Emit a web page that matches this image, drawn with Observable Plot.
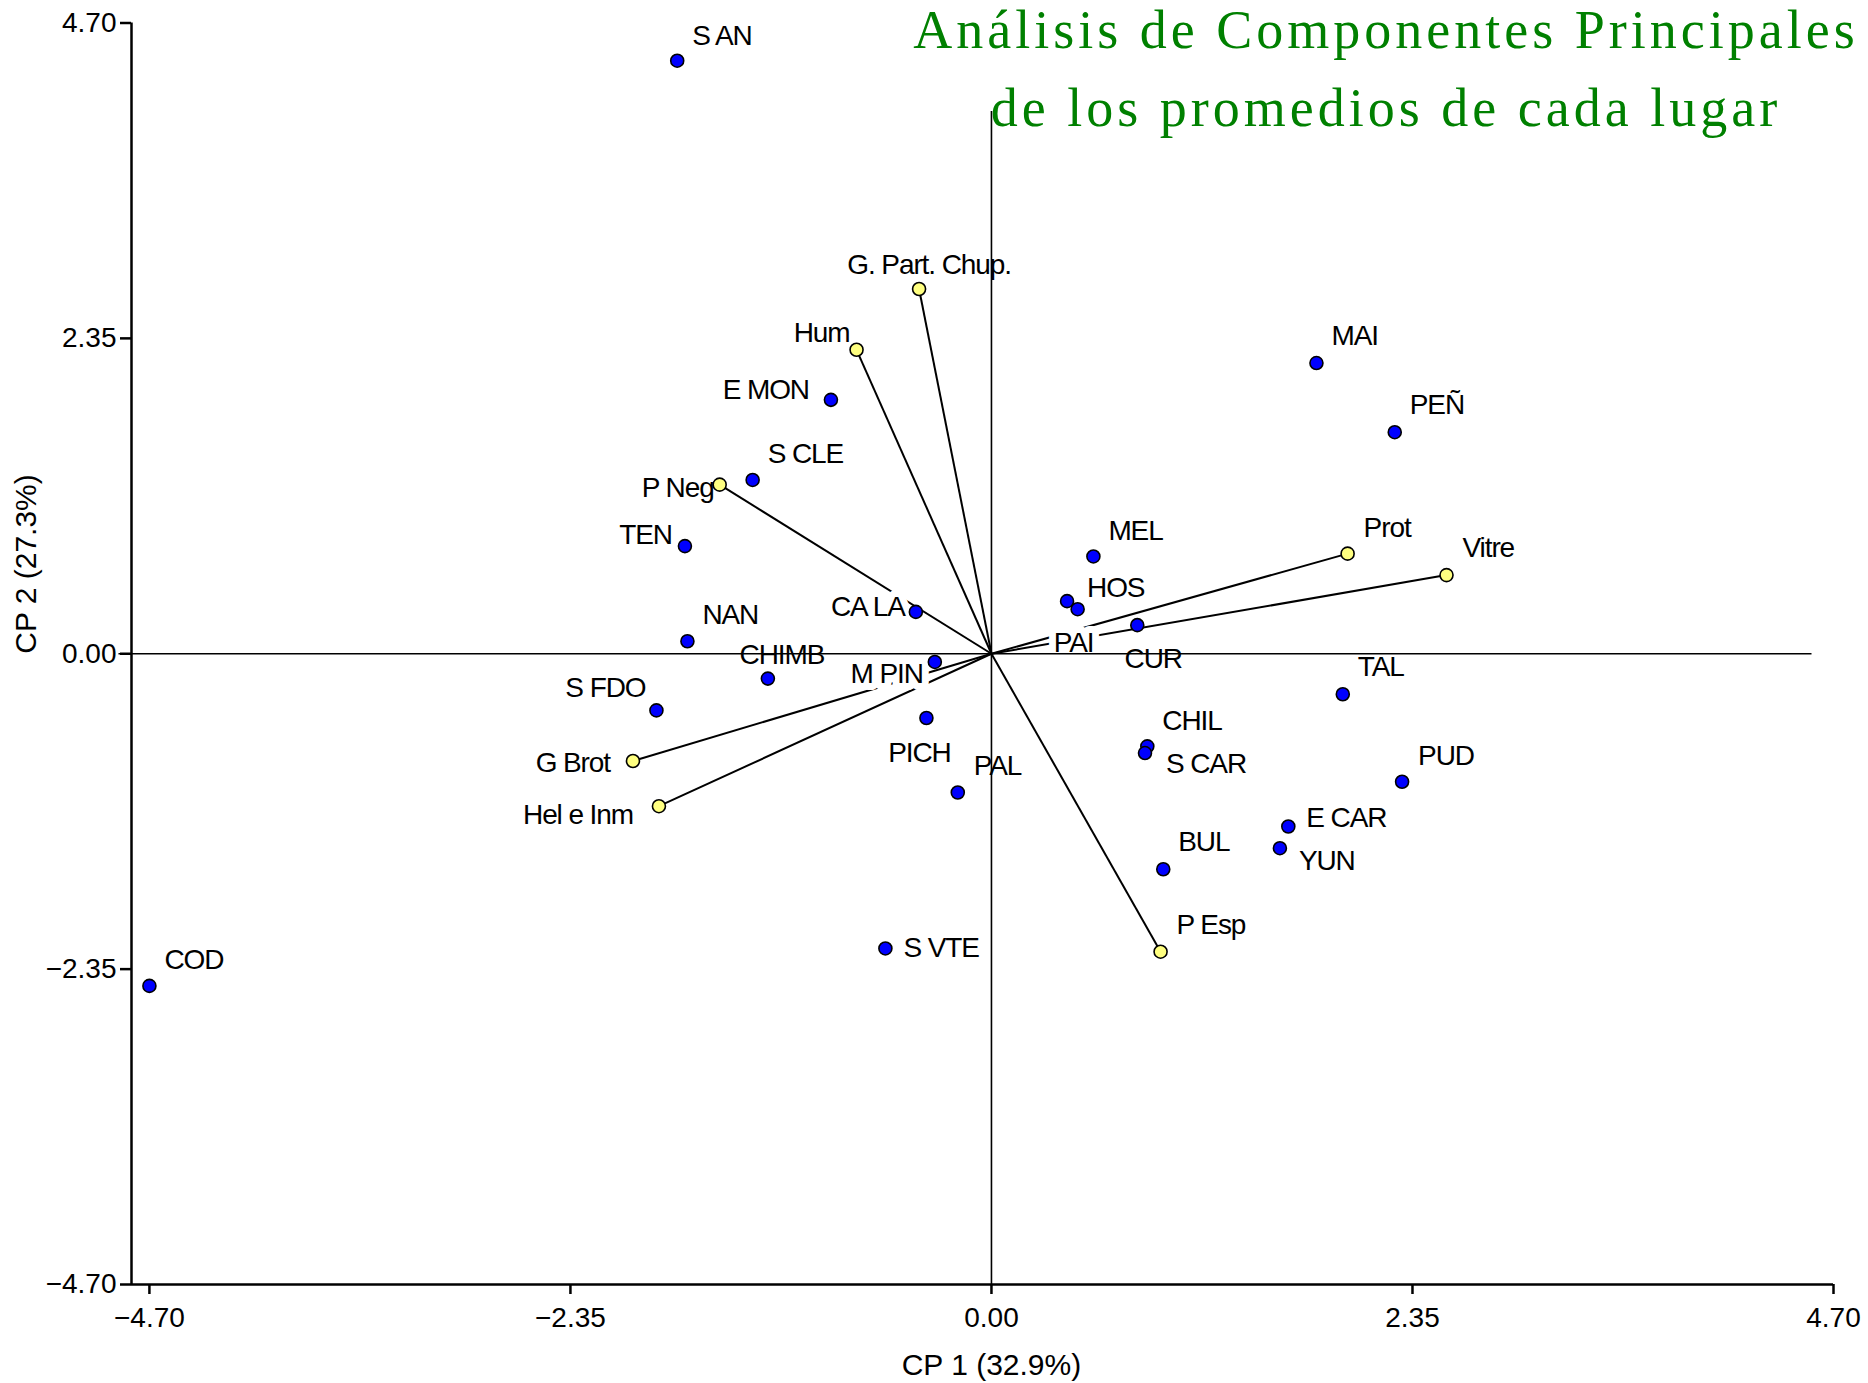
<!DOCTYPE html>
<html>
<head>
<meta charset="utf-8">
<script src="https://cdn.jsdelivr.net/npm/d3@7"></script>
<script src="https://cdn.jsdelivr.net/npm/@observablehq/plot@0.6"></script>
<style>
  html, body { margin: 0; padding: 0; background: #fff; }
  #chart { position: relative; width: 1868px; height: 1383px; overflow: hidden; }
  .titulo {
    position: absolute; left: 886px; width: 1000px;
    text-align: center; white-space: nowrap;
    font-family: "Liberation Serif", "DejaVu Serif", serif;
    font-size: 54px; line-height: 60px; letter-spacing: 4px; color: #008000;
  }
  g[aria-description="etiquetas"] text { letter-spacing: -1.1px; }
</style>
</head>
<body>
<div id="chart">
  <div class="titulo" style="top: 0px;">Análisis de Componentes Principales</div>
  <div class="titulo" style="top: 78px;">de los promedios de cada lugar</div>
</div>
<script>
// Lugares: puntuaciones en las dos primeras componentes
const lugares = ["S AN", "E MON", "S CLE", "TEN", "NAN", "CA LA", "CHIMB", "S FDO", "M PIN", "PICH", "PAL", "S VTE", "COD",
                 "HOS", "PAI", "MEL", "CUR", "MAI", "PEÑ", "TAL", "CHIL", "S CAR", "PUD", "E CAR", "YUN", "BUL"];
const lugaresCP1 = [-1.754, -0.896, -1.333, -1.711, -1.697, -0.422, -1.248, -1.870, -0.316, -0.363, -0.188, -0.592, -4.700,
                    0.422, 0.481, 0.569, 0.814, 1.814, 2.251, 1.961, 0.870, 0.857, 2.292, 1.657, 1.610, 0.959];
const lugaresCP2 = [4.419, 1.892, 1.295, 0.802, 0.093, 0.312, -0.185, -0.422, -0.061, -0.479, -1.034, -2.196, -2.475,
                    0.392, 0.332, 0.725, 0.213, 2.166, 1.651, -0.302, -0.690, -0.740, -0.954, -1.287, -1.449, -1.606];

// Variables: coordenadas de los vectores
const variables = ["G. Part. Chup.", "Hum", "P Neg", "Prot", "Vitre", "G Brot", "Hel e Inm", "P Esp"];
const variablesCP1 = [-0.404, -0.753, -1.517, 1.988, 2.540, -2.001, -1.856, 0.944];
const variablesCP2 = [2.718, 2.265, 1.260, 0.746, 0.586, -0.799, -1.136, -2.220];

// Ejes
const ticksEje = [-4.70, -2.35, 0, 2.35, 4.70];
const dominioX = [-4.8, 4.7];
const dominioY = [-4.7, 4.7];
const tituloX = "CP 1 (32.9%)";
const tituloY = "CP 2 (27.3%)";

// Colocación de cada etiqueta respecto a su punto: [anclaje, dx, dy]
const colocacion = {
  "S AN": ["start", 15, -16], "E MON": ["end", -22, -1], "S CLE": ["start", 15, -17], "TEN": ["end", -13, -2],
  "NAN": ["start", 15, -17], "CA LA": ["end", -11, 4], "CHIMB": ["middle", 14, -15], "S FDO": ["end", -11, -13],
  "M PIN": ["end", -12, 21], "PICH": ["middle", -7, 44], "PAL": ["start", 16, -18], "S VTE": ["start", 18, 9],
  "COD": ["start", 15, -17], "HOS": ["start", 20, -4], "PAI": ["middle", -4, 43], "MEL": ["start", 15, -16],
  "CUR": ["middle", 16, 43], "MAI": ["start", 15, -18], "PEÑ": ["start", 15, -18], "TAL": ["start", 15, -18],
  "CHIL": ["start", 15, -16], "S CAR": ["start", 21, 20], "PUD": ["start", 16, -17], "E CAR": ["start", 18, 1],
  "YUN": ["start", 19, 22], "BUL": ["start", 15, -18],
  "G. Part. Chup.": ["middle", 10, -15], "Hum": ["end", -7, -8], "P Neg": ["end", -6, 12], "Prot": ["start", 16, -17],
  "Vitre": ["start", 16, -18], "G Brot": ["end", -23, 11], "Hel e Inm": ["end", -26, 18], "P Esp": ["start", 16, -18]
};

const sitios = lugares.map((nombre, i) => ({nombre, cp1: lugaresCP1[i], cp2: lugaresCP2[i]}));
const vectores = variables.map((nombre, i) => ({nombre, cp1: variablesCP1[i], cp2: variablesCP2[i]}));
const todos = [...sitios, ...vectores];

const formato = d3.format(".2f");
const fuente = 28;

// Etiquetas: primero el fondo blanco de todas, luego el texto
const etiqueta = (d, fondo) => {
  const [anchor, dx, dy] = colocacion[d.nombre];
  return Plot.text([d], {
    x: "cp1", y: "cp2", text: "nombre",
    textAnchor: anchor, lineAnchor: "bottom", dx, dy,
    fontSize: fuente,
    fill: fondo ? "white" : "black",
    stroke: fondo ? "white" : null,
    strokeWidth: fondo ? 14 : null,
    ariaDescription: "etiquetas"
  });
};

const chart = Plot.plot({
  width: 1868,
  height: 1383,
  marginLeft: 131,
  marginRight: 35,
  marginTop: 22.5,
  marginBottom: 99,
  x: {domain: dominioX},
  y: {domain: dominioY},
  style: {fontFamily: "'Liberation Sans', Arial, sans-serif", fontSize: "28px", color: "black", background: "white"},
  marks: [
    Plot.axisX(ticksEje, {tickFormat: formato, tickSize: 10, tickPadding: 13, strokeWidth: 2.5, fontSize: 28, label: null}),
    Plot.axisY(ticksEje, {tickFormat: formato, tickSize: 11, tickPadding: 4, strokeWidth: 2.5, fontSize: 28, label: null}),
    Plot.ruleX([dominioX[0]], {strokeWidth: 2.5}),
    Plot.ruleY([dominioY[0]], {strokeWidth: 2.5}),
    // vectores de las variables
    Plot.link(vectores, {x1: () => 0, y1: () => 0, x2: "cp1", y2: "cp2", stroke: "black", strokeWidth: 2}),
    ...todos.map(d => etiqueta(d, true)),
    ...todos.map(d => etiqueta(d, false)),
    // líneas de referencia en el origen
    Plot.ruleY([0], {x1: -4.87, x2: 4.58, stroke: "black", strokeWidth: 1.6}),
    Plot.ruleX([0], {y1: dominioY[0], y2: 4.04, stroke: "black", strokeWidth: 1.6}),
    // puntos
    Plot.dot(vectores, {x: "cp1", y: "cp2", r: 6.5, fill: "#ffff80", stroke: "black", strokeWidth: 1.6}),
    Plot.dot(sitios, {x: "cp1", y: "cp2", r: 6.5, fill: "#0000ff", stroke: "black", strokeWidth: 1.6}),
    // títulos de los ejes
    Plot.text([tituloX], {x: () => 0, frameAnchor: "bottom", lineAnchor: "bottom", dy: 90, fontSize: 30}),
    Plot.text([tituloY], {frameAnchor: "left", dx: -105, rotate: -90, fontSize: 30})
  ]
});

const cont = document.getElementById("chart");
cont.insertBefore(chart, cont.firstChild);
chart.style.position = "absolute";
chart.style.left = "0px";
chart.style.top = "0px";
</script>
</body>
</html>
